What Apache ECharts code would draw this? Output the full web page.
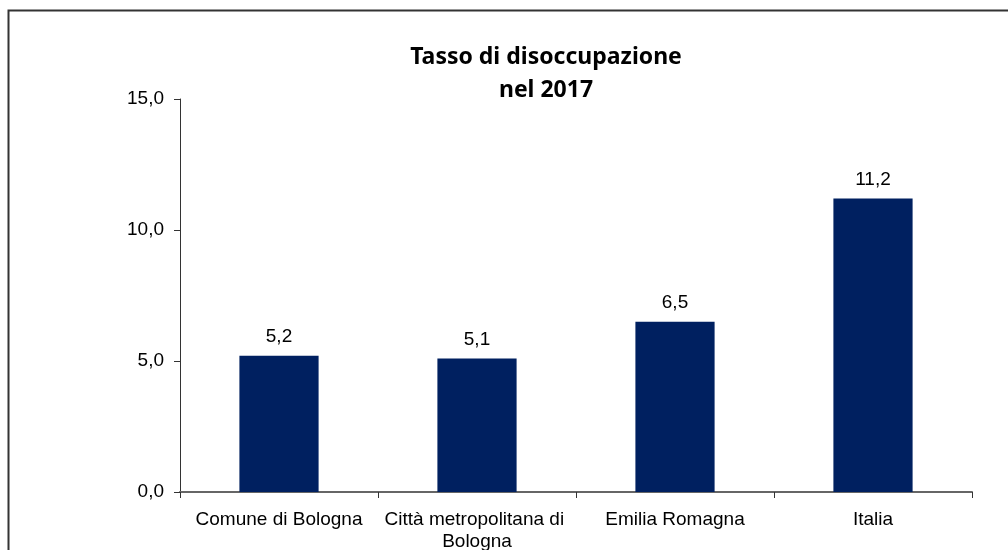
<!DOCTYPE html>
<html>
<head>
<meta charset="utf-8">
<script src="https://cdn.jsdelivr.net/npm/echarts@6/dist/echarts.min.js"></script>
<style>
  html, body { margin: 0; padding: 0; background: #fff; }
  #chart { width: 1008px; height: 550px; }
</style>
</head>
<body>
<div id="chart"></div>
<script>
// dati
const categories = ['Comune di Bologna', 'Città metropolitana di Bologna', 'Emilia Romagna', 'Italia'];
const values = [5.2, 5.1, 6.5, 11.2];
const titleText = 'Tasso di disoccupazione\nnel 2017';

const fmt = (v) => Number(v).toFixed(1).replace('.', ',');

const myChart = echarts.init(document.getElementById('chart'));
const option = {
  animation: false,
  title: {
    text: titleText,
    left: 541,
    textAlign: 'center',
    top: 36,
    textStyle: {
      fontFamily: 'Noto Sans',
      fontWeight: 'bold',
      fontSize: 23,
      lineHeight: 33,
      color: '#000'
    }
  },
  // cornice esterna
  graphic: [{
    type: 'rect',
    shape: { x: 8.5, y: 10.5, width: 1100, height: 600 },
    style: { fill: 'none', stroke: '#333', lineWidth: 2 },
    silent: true
  }],
  grid: {
    left: 180,
    right: 36,
    top: 99,
    bottom: 58,
    containLabel: false,
    outerBoundsMode: 'none'
  },
  xAxis: {
    type: 'category',
    data: categories,
    axisLine: { lineStyle: { color: '#666', width: 2 } },
    axisTick: { show: true, alignWithLabel: false, length: 6, lineStyle: { color: '#333' } },
    axisLabel: {
      interval: 0,
      margin: 17,
      width: 196,
      overflow: 'break',
      fontFamily: 'Liberation Sans',
      fontSize: 19,
      lineHeight: 22,
      color: '#000'
    }
  },
  yAxis: {
    type: 'value',
    min: 0,
    max: 15,
    interval: 5,
    splitLine: { show: false },
    axisLine: { show: true, lineStyle: { color: '#333' } },
    axisTick: { show: true, inside: false, length: 6, lineStyle: { color: '#333' } },
    axisLabel: {
      margin: 16,
      fontFamily: 'Liberation Sans',
      fontSize: 19,
      color: '#000',
      formatter: fmt
    }
  },
  series: [{
    type: 'bar',
    data: values,
    barWidth: '40%',
    itemStyle: { color: '#002060' },
    label: {
      show: true,
      position: 'top',
      distance: 9,
      fontFamily: 'Liberation Sans',
      fontSize: 19,
      color: '#000',
      formatter: (p) => fmt(p.value)
    }
  }]
};
myChart.setOption(option);
</script>
</body>
</html>
